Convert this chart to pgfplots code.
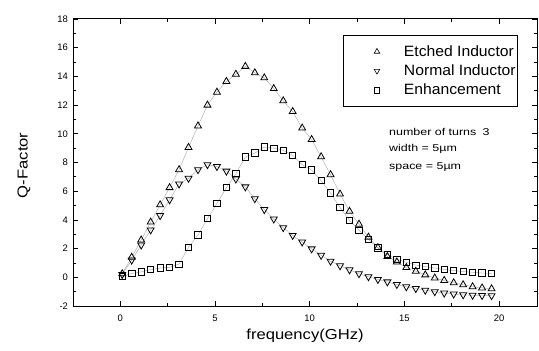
\documentclass[border=0pt]{standalone}
\usepackage{fontspec}
\setmainfont{Liberation Sans}
\usepackage{pgfplots}
\usepackage{pgfplotstable}
\pgfplotsset{compat=1.18}
\pgfplotstableread{
x y
0.1 0.25
0.6 1.4
1.1 2.6
1.6 3.85
2.1 5.05
2.6 6.25
3.1 7.5
3.6 9.05
4.1 10.55
4.6 12.0
5.1 12.9
5.6 13.65
6.1 14.15
6.6 14.7
7.1 14.25
7.6 13.9
8.1 13.15
8.6 12.3
9.1 11.55
9.6 10.4
10.1 9.6
10.6 8.4
11.1 7.15
11.6 5.8
12.1 4.6
12.6 3.7
13.1 2.8
13.6 2.07
14.1 1.45
14.6 1.07
15.1 0.68
15.6 0.42
16.1 0.17
16.6 -0.05
17.1 -0.22
17.6 -0.38
18.1 -0.52
18.6 -0.66
19.1 -0.74
19.6 -0.8
}\etched
\pgfplotstableread{
x y
0.1 0.2
0.6 1.2
1.1 2.25
1.6 3.3
2.1 4.3
2.6 5.4
3.1 6.5
3.6 6.9
4.1 7.5
4.6 7.85
5.1 7.72
5.6 7.4
6.1 6.85
6.6 6.3
7.1 5.48
7.6 4.72
8.1 4.06
8.6 3.46
9.1 2.92
9.6 2.46
10.1 1.98
10.6 1.53
11.1 1.12
11.6 0.8
12.1 0.52
12.6 0.25
13.1 0.04
13.6 -0.15
14.1 -0.32
14.6 -0.5
15.1 -0.66
15.6 -0.78
16.1 -0.9
16.6 -1.0
17.1 -1.1
17.6 -1.17
18.1 -1.22
18.6 -1.25
19.1 -1.27
19.6 -1.28
}\normal
\pgfplotstableread{
x y
0.1 0.05
0.6 0.27
1.1 0.38
1.6 0.53
2.1 0.65
2.6 0.7
3.1 0.92
3.6 2.1
4.1 2.95
4.6 4.09
5.1 5.15
5.6 6.25
6.1 7.22
6.6 8.38
7.1 8.66
7.6 9.08
8.1 9.0
8.6 8.85
9.1 8.5
9.6 7.85
10.1 7.48
10.6 6.74
11.1 5.87
11.6 4.86
12.1 3.97
12.6 3.28
13.1 2.64
13.6 2.05
14.1 1.59
14.6 1.25
15.1 1.05
15.6 0.85
16.1 0.75
16.6 0.65
17.1 0.55
17.6 0.47
18.1 0.4
18.6 0.35
19.1 0.3
19.6 0.27
}\enh
\begin{document}
\begin{tikzpicture}[x=1bp,y=1bp]
\path[use as bounding box] (0,0) rectangle (539,350);
\begin{axis}[
  at={(73bp,44bp)}, anchor=south west,
  scale only axis, width=464bp, height=287bp,
  xmin=-2.5, xmax=22, ymin=-2, ymax=18,
  xtick={0,5,...,20}, minor xtick={2.5,7.5,12.5,17.5},
  ytick={-2,0,...,18}, minor ytick={-1,1,...,17},
  tick align=inside, major tick length=5bp, minor tick length=3bp,
  every tick/.style={black, line width=0.8bp},
  axis line style={line width=1bp},
  /pgf/number format/assume math mode=true,
  tick label style={font=\fontsize{9.5}{11}\selectfont},
  xticklabel style={yshift=-5bp},
  yticklabel style={xshift=-1.5bp},
  xlabel={\scalebox{1.15}[1]{frequency(GHz)}},
  ylabel={\scalebox{1.15}[1]{Q-Factor}},
  label style={font=\fontsize{14.5}{17}\selectfont},
  xlabel style={at={(axis description cs:0.5,-0.1045)}, anchor=center},
  ylabel style={at={(axis description cs:-0.1056,0.49)}, anchor=center},
  legend style={at={(0.581,0.944)}, anchor=north west, draw=black, line width=0.8bp,
    font=\fontsize{15}{18}\selectfont, row sep=3bp, inner xsep=0bp, inner ysep=8bp,
    cells={anchor=west}},
  legend image code/.code={\path[draw=none,fill=none] (0bp,0bp) -- (59bp,0bp); \draw[#1, every mark/.append style={scale=0.8}, line width=0.6bp] plot coordinates {(34bp,0bp)};},
]
\addplot[forget plot, gray!70, line width=0.4bp] table[x=x,y=y] {\etched};
\addplot[forget plot, gray!70, line width=0.4bp] table[x=x,y=y] {\normal};
\addplot[forget plot, gray!70, line width=0.4bp] table[x=x,y=y] {\enh};
\addplot[only marks, black, mark=triangle, mark size=4bp, line width=0.8bp] table[x=x,y=y] {\etched};
\addlegendentry{\scalebox{1.05}[1]{Etched Inductor}}
\addplot[only marks, black, mark=triangle, mark size=4bp, line width=0.8bp, mark options={rotate=180}] table[x=x,y=y] {\normal};
\addlegendentry{\scalebox{1.05}[1]{Normal Inductor}}
\addplot[only marks, black, mark=square, mark size=3.2bp, line width=0.8bp] table[x=x,y=y] {\enh};
\addlegendentry{\scalebox{1.05}[1]{Enhancement}}
\node[anchor=west, inner sep=0pt, font=\fontsize{10}{12}\selectfont] at (rel axis cs:0.681,0.605) {\scalebox{1.25}[1]{number of turns\enspace 3}};
\node[anchor=west, inner sep=0pt, font=\fontsize{10}{12}\selectfont] at (rel axis cs:0.681,0.546) {\scalebox{1.25}[1]{width = 5µm}};
\node[anchor=west, inner sep=0pt, font=\fontsize{10}{12}\selectfont] at (rel axis cs:0.681,0.485) {\scalebox{1.25}[1]{space = 5µm}};
\end{axis}
\end{tikzpicture}
\end{document}
